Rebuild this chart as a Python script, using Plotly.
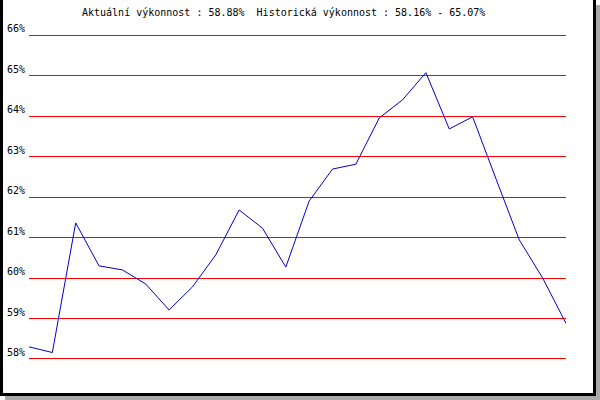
import plotly.graph_objects as go

# Data
values = [58.30, 58.16, 61.36, 60.30, 60.20, 59.85, 59.21, 59.78, 60.57, 61.68,
          61.23, 60.27, 61.90, 62.69, 62.81, 63.95, 64.40, 65.07, 63.68, 63.98,
          62.45, 60.94, 60.00, 58.88]
x_index = list(range(len(values)))
tick_values = [58, 59, 60, 61, 62, 63, 64, 65, 66]
tick_labels = ["58%", "59%", "60%", "61%", "62%", "63%", "64%", "65%", "66%"]
title_text = "Aktuální výkonnost : 58.88%  Historická výkonnost : 58.16% - 65.07%"

W, H = 600, 400
L, R, T, B = 29, 566, 35, 359  # plot area pixel bounds


def px_x(px):
    return (px - L) / (R - L)


def px_y(py):
    return (B - py) / (B - T)


FONT = "DejaVu Sans Mono"

fig = go.Figure()
fig.add_trace(go.Scatter(x=x_index, y=values, mode="lines",
                         line=dict(color="#0000cc", width=1),
                         hoverinfo="skip", showlegend=False))

shapes = []
# grid lines at the range ends (plotly omits those gridlines); nudged half a
# pixel inwards so they render crisp
for v, off in ((tick_values[0], 0.5), (tick_values[-1], -0.5)):
    shapes.append(dict(type="line", xref="paper", yref="y", ysizemode="pixel",
                       yanchor=v, x0=0, x1=1, y0=off, y1=off,
                       line=dict(color="#ff0000", width=1), layer="below"))


def rect(x0, y0, x1, y1, color):
    shapes.append(dict(type="rect", xref="paper", yref="paper",
                       x0=px_x(x0), x1=px_x(x1), y0=px_y(y1), y1=px_y(y0),
                       fillcolor=color, line=dict(width=0), layer="above"))


# shadow
rect(596, 5, 600, 400, "#aaaaaa")
rect(5, 396, 600, 400, "#aaaaaa")
# black frame
rect(0, 0, 3, 396, "#000000")
rect(593, 0, 596, 396, "#000000")
rect(0, 393, 596, 396, "#000000")

annotations = []
for v, lab in zip(tick_values, tick_labels):
    annotations.append(dict(x=0, xref="paper", y=v, yref="y", text=lab,
                            showarrow=False, xanchor="right", yanchor="bottom",
                            xshift=-2, yshift=-1,
                            font=dict(family=FONT, size=10, color="#000000")))
annotations.append(dict(x=px_x(283), xref="paper", y=px_y(13), yref="paper",
                        text=title_text, showarrow=False, xanchor="center",
                        yanchor="middle",
                        font=dict(family=FONT, size=10, color="#000000")))

fig.update_layout(
    width=W, height=H,
    margin=dict(l=L, r=W - R, t=T, b=H - B, pad=0, autoexpand=False),
    paper_bgcolor="#ffffff", plot_bgcolor="#ffffff",
    xaxis=dict(range=[0, len(values) - 1], showgrid=False, zeroline=False,
               showticklabels=False, showline=False, ticks=""),
    yaxis=dict(range=[tick_values[0], tick_values[-1]], showgrid=True,
               gridcolor="#ff0000", gridwidth=1, tickmode="array",
               tickvals=tick_values, zeroline=False,
               showticklabels=False, showline=False, ticks=""),
    shapes=shapes,
    annotations=annotations,
)

fig.write_html("out.html",
               config={"displayModeBar": False, "staticPlot": True},
               post_script="document.body.style.margin='0';"
                           "document.body.style.padding='0';")
